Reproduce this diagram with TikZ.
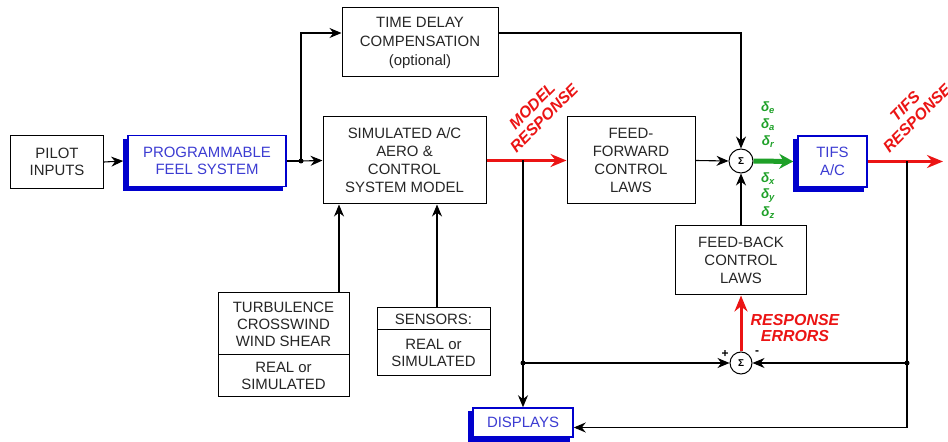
\documentclass[tikz,border=0pt]{standalone}
\usepackage{fontspec}
\setmainfont{Liberation Sans}
\usetikzlibrary{arrows.meta,shadows,calc}
\definecolor{boxblue}{RGB}{0,0,205}
\definecolor{txtblue}{RGB}{60,60,210}
\definecolor{sigred}{RGB}{235,20,20}
\definecolor{siggreen}{RGB}{30,160,40}
\begin{document}
\begin{tikzpicture}[x=1bp,y=-1bp,
 box/.style={draw=black, line width=1bp, fill=white, align=center, inner sep=0pt, text=black!85, font=\fontsize{15}{17.5}\selectfont},
 bluebox/.style={box, draw=boxblue, text=txtblue, line width=1.5bp, copy shadow={shadow xshift=-4bp, shadow yshift=-4bp, fill=boxblue, draw=boxblue}},
 sum/.style={circle, draw=black, line width=1bp, fill=white, inner sep=0pt, font=\fontsize{10}{10}\selectfont\bfseries},
 arr/.style={line width=1.1bp, -{Stealth[length=12bp,width=10bp]}},
 ln/.style={line width=1.1bp},
 redarr/.style={draw=sigred, line width=3bp, -{Stealth[length=16bp,width=13bp]}},
 greenarr/.style={draw=siggreen, line width=5bp, -{Stealth[length=14bp,width=15bp]}},
 redlbl/.style={text=sigred, font=\fontsize{16}{17}\selectfont\bfseries\itshape, align=center, inner sep=0pt},
 dlt/.style={text=siggreen, font=\fontsize{13.5}{13.5}\selectfont\bfseries\itshape, inner sep=0pt},
 sgn/.style={font=\fontsize{12}{12}\selectfont\bfseries, inner sep=0pt},
 dot/.style={circle, fill=black, inner sep=0pt, minimum size=5bp}
]
\useasboundingbox (0,0) rectangle (948,442);

% blocks
\node[box, minimum width=93bp, minimum height=53bp] (pilot) at (57,162) {PILOT\\INPUTS};
\node[bluebox, minimum width=158bp, minimum height=51bp] (feel) at (207,161) {PROGRAMMABLE\\FEEL SYSTEM};
\node[box, minimum width=156bp, minimum height=69bp, font=\fontsize{15}{19}\selectfont] (tdc) at (420,42.5) {TIME DELAY\\COMPENSATION\\(optional)};
\node[box, minimum width=163bp, minimum height=87bp, font=\fontsize{15}{18}\selectfont] (sim) at (404.5,160.5) {SIMULATED A/C\\AERO \&\\CONTROL\\SYSTEM MODEL};
\node[box, minimum width=128bp, minimum height=87bp, font=\fontsize{15}{18}\selectfont] (ff) at (631,160.5) {FEED-\\FORWARD\\CONTROL\\LAWS};
\node[box, minimum width=131bp, minimum height=69bp, font=\fontsize{15}{18}\selectfont] (fb) at (741,260.5) {FEED-BACK\\CONTROL\\LAWS};
\node[bluebox, minimum width=69bp, minimum height=51bp] (tifs) at (832.5,161.5) {TIFS\\A/C};
\node[bluebox, minimum width=100bp, minimum height=29bp] (disp) at (523,422.5) {DISPLAYS};
\node[box, minimum width=131bp, minimum height=62bp, font=\fontsize{15}{17}\selectfont] (turbT) at (283.5,324) {TURBULENCE\\CROSSWIND\\WIND SHEAR};
\node[box, minimum width=131bp, minimum height=42bp, font=\fontsize{15}{16.5}\selectfont] (turbB) at (283.5,376) {REAL or\\SIMULATED};
\node[box, minimum width=113bp, minimum height=22bp] (sensT) at (433.5,319) {SENSORS:};
\node[box, minimum width=113bp, minimum height=46bp, font=\fontsize{15}{17.5}\selectfont] (sensB) at (433.5,353) {REAL or\\SIMULATED};
\node[sum, minimum size=24bp] (s1) at (741,161) {Σ};
\node[sum, minimum size=22bp] (s2) at (741,363) {Σ};

% coordinates
\coordinate (j1) at (301,161);
\coordinate (j2) at (523,160.5);
\coordinate (j3) at (523,363);
\coordinate (j4) at (907,161.5);
\coordinate (j5) at (907,363);
\coordinate (j6) at (907,427.5);
\coordinate (tout) at (943,161.5);
\coordinate (c1) at (339,0);
\coordinate (c2) at (437,0);

% connectors
\draw[arr] (pilot.east) -- ([xshift=-4bp]feel.west);
\draw[ln] (feel.east) -- (j1);
\draw[arr] (j1) -- (sim.west);
\draw[arr] (j1) |- ([yshift=9.5bp]tdc.west);
\draw[arr] ([yshift=9.5bp]tdc.east) -| (s1.north);
\draw[arr] (ff.east) -- (s1.west);
\draw[arr] (fb.north) -- (s1.south);
\draw[greenarr] (s1.east) -- ([xshift=-4bp]tifs.west);
\draw[redarr] (sim.east) -- (ff.west);
\draw[arr] (j2) -- (disp.north);
\draw[arr] (j3) -- (s2.west);
\draw[redarr] (tifs.east) -- (tout);
\draw[ln] (j4) -- (j6);
\draw[arr] (j5) -- (s2.east);
\draw[arr] (j6) -- (disp.east |- j6);
\draw[redarr] (s2.north) -- (fb.south);
\draw[arr] (turbT.north -| c1) -- (sim.south -| c1);
\draw[arr] (sensT.north -| c2) -- (sim.south -| c2);

\node[dot] (d1) at (j1) {};
\node[dot] (d3) at (j3) {};
\node[dot] (d5) at (j5) {};

% signs
\node[sgn] (plus) at (725,354) {+};
\node[sgn] (minus) at (757,353) {-};

% labels
\node[redlbl, rotate=45] (mr) at (538,112) {MODEL\\RESPONSE};
\node[redlbl, rotate=45] (tr) at (911,112) {TIFS\\RESPONSE};
\node[redlbl] (re) at (795,328) {RESPONSE\\ERRORS};

\node[dlt] (de) at (768,108) {δ\textsubscript{e}};
\node[dlt] (da) at (768,125) {δ\textsubscript{a}};
\node[dlt] (dr) at (768,142) {δ\textsubscript{r}};
\node[dlt] (dx) at (768,179) {δ\textsubscript{x}};
\node[dlt] (dy) at (768,196) {δ\textsubscript{y}};
\node[dlt] (dz) at (768,213) {δ\textsubscript{z}};
\end{tikzpicture}
\end{document}
